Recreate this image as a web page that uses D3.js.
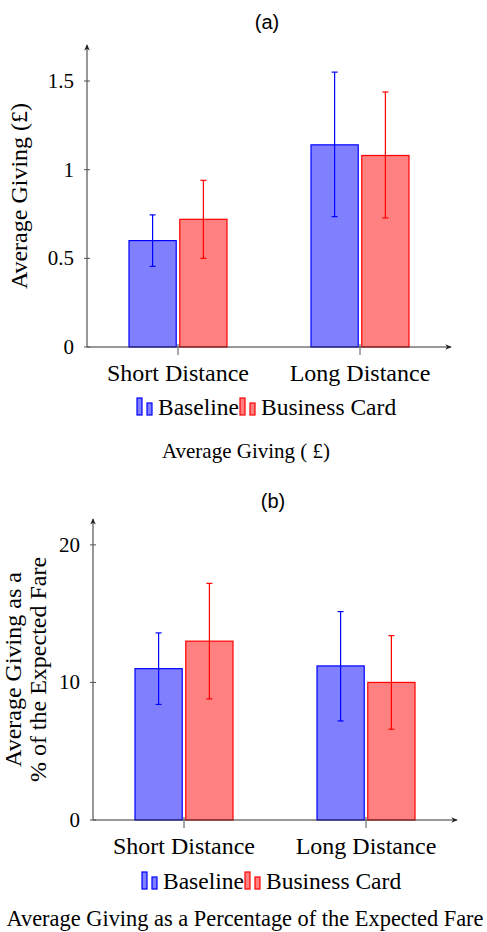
<!DOCTYPE html>
<html>
<head>
<meta charset="utf-8">
<script src="https://cdn.jsdelivr.net/npm/d3@7"></script>
<style>
    body { margin: 0; background: #fff; }
    svg text { fill: #000; }
    .serif { font-family: "Liberation Serif", "Times New Roman", serif; }
    .sans { font-family: "Liberation Sans", Arial, sans-serif; }
</style>
</head>
<body>
<svg id="chart" width="487" height="932"></svg>
<script>
"use strict";

const categories = ['Short Distance', 'Long Distance'];
const seriesNames = ['Baseline', 'Business Card'];
const seriesColors = [
    { fill: '#8080ff', stroke: '#0000ff' },
    { fill: '#ff8080', stroke: '#ff0000' }
];

// panel (a): average giving in pounds
const givingBaseline = [0.60, 1.14];
const givingCard = [0.72, 1.08];
const givingBaselineLow = [0.455, 0.735];
const givingBaselineHigh = [0.745, 1.55];
const givingCardLow = [0.50, 0.728];
const givingCardHigh = [0.94, 1.438];
const givingTicks = [0, 0.5, 1, 1.5];

// panel (b): giving as % of expected fare
const percentBaseline = [11.0, 11.2];
const percentCard = [13.0, 10.0];
const percentBaselineLow = [8.4, 7.2];
const percentBaselineHigh = [13.6, 15.15];
const percentCardLow = [8.8, 6.6];
const percentCardHigh = [17.2, 13.4];
const percentTicks = [0, 10, 20];

const SERIF = '"Liberation Serif", "Times New Roman", serif';

const svg = d3.select('#chart');

const defs = svg.append('defs');
defs.append('marker')
    .attr('id', 'arrow')
    .attr('viewBox', '0 0 10 10')
    .attr('refX', 8).attr('refY', 5)
    .attr('markerWidth', 7).attr('markerHeight', 7)
    .attr('orient', 'auto')
    .append('path')
    .attr('d', 'M0,1 L9,5 L0,9 L2.5,5 Z')
    .attr('fill', '#222');

drawPanel({
    title: '(a)', titleY: 29,
    left: 87, right: 451, bottom: 347, top: 45,
    yMax: 1.703, ticks: givingTicks, tickFormat: d => String(d),
    values: [givingBaseline, givingCard],
    lows: [givingBaselineLow, givingCardLow],
    highs: [givingBaselineHigh, givingCardHigh],
    yLabel: ['Average Giving (£)'], yLabelX: [27],
    legendX: 137, legendY: 415,
    caption: 'Average Giving ( £)', captionX: 246, captionY: 458, captionSize: 21
});

drawPanel({
    title: '(b)', titleY: 508,
    left: 93, right: 457, bottom: 820, top: 519,
    yMax: 21.88, ticks: percentTicks, tickFormat: d => String(d),
    values: [percentBaseline, percentCard],
    lows: [percentBaselineLow, percentCardLow],
    highs: [percentBaselineHigh, percentCardHigh],
    yLabel: ['Average Giving as a', '% of the Expected Fare'], yLabelX: [21, 46],
    legendX: 142, legendY: 889,
    caption: 'Average Giving as a Percentage of the Expected Fare', captionX: 245, captionY: 926, captionSize: 22.4
});


// ------------------------- Panel -------------------------

function drawPanel(cfg) {
    const g = svg.append('g');

    const x = d3.scaleBand()
        .domain(categories)
        .range([cfg.left, cfg.right]);

    const inner = d3.scaleBand()
        .domain(d3.range(seriesNames.length))
        .range([-49, 49])
        .paddingInner(0.07);

    const y = d3.scaleLinear()
        .domain([0, cfg.yMax])
        .range([cfg.bottom, cfg.top]);

    g.append('text')
        .classed('sans', true)
        .attr('x', (cfg.left + cfg.right) / 2 - 2)
        .attr('y', cfg.titleY)
        .attr('text-anchor', 'middle')
        .attr('font-size', 20)
        .text(cfg.title);

    // bars
    const rows = [];
    cfg.values.forEach((vals, s) => vals.forEach((v, i) => rows.push({
        s, cat: categories[i], v, lo: cfg.lows[s][i], hi: cfg.highs[s][i]
    })));

    g.selectAll('.bar')
        .data(rows)
        .enter()
        .append('rect')
        .classed('bar', true)
        .attr('x', d => x(d.cat) + x.bandwidth() / 2 + inner(d.s))
        .attr('y', d => y(d.v))
        .attr('width', inner.bandwidth())
        .attr('height', d => y(0) - y(d.v))
        .attr('fill', d => seriesColors[d.s].fill)
        .attr('stroke', d => seriesColors[d.s].stroke)
        .attr('stroke-width', 1.2);

    // error bars
    const err = g.selectAll('.err')
        .data(rows)
        .enter()
        .append('g')
        .classed('err', true)
        .attr('stroke', d => seriesColors[d.s].stroke)
        .attr('stroke-width', 1.2)
        .attr('transform', d => `translate(${x(d.cat) + x.bandwidth() / 2 + inner(d.s) + inner.bandwidth() / 2},0)`);

    err.append('line')
        .attr('y1', d => y(d.lo)).attr('y2', d => y(d.hi));
    err.append('line')
        .attr('x1', -3).attr('x2', 3)
        .attr('y1', d => y(d.hi)).attr('y2', d => y(d.hi));
    err.append('line')
        .attr('x1', -3).attr('x2', 3)
        .attr('y1', d => y(d.lo)).attr('y2', d => y(d.lo));

    // axes
    g.append('line')
        .attr('x1', cfg.left).attr('x2', cfg.right)
        .attr('y1', cfg.bottom).attr('y2', cfg.bottom)
        .attr('stroke', '#333').attr('stroke-width', 1)
        .attr('marker-end', 'url(#arrow)');
    g.append('line')
        .attr('x1', cfg.left).attr('x2', cfg.left)
        .attr('y1', cfg.bottom).attr('y2', cfg.top)
        .attr('stroke', '#333').attr('stroke-width', 1)
        .attr('marker-end', 'url(#arrow)');

    const yTicks = g.selectAll('.ytick')
        .data(cfg.ticks)
        .enter()
        .append('g')
        .classed('ytick', true)
        .attr('transform', d => `translate(${cfg.left},${y(d)})`);
    yTicks.append('line')
        .attr('x1', -3).attr('x2', 3)
        .attr('stroke', '#555');
    yTicks.append('text')
        .attr('font-family', SERIF)
        .attr('x', -13)
        .attr('dy', '0.33em')
        .attr('text-anchor', 'end')
        .attr('font-size', 21)
        .text(cfg.tickFormat);

    const xTicks = g.selectAll('.xtick')
        .data(categories)
        .enter()
        .append('g')
        .classed('xtick', true)
        .attr('transform', d => `translate(${x(d) + x.bandwidth() / 2},${cfg.bottom})`);
    xTicks.append('line')
        .attr('y1', -3).attr('y2', 8)
        .attr('stroke', '#555');
    xTicks.append('text')
        .attr('font-family', SERIF)
        .attr('y', 34)
        .attr('text-anchor', 'middle')
        .attr('font-size', 24)
        .text(d => d);

    // y label
    const midY = (cfg.bottom + cfg.top) / 2;
    cfg.yLabel.forEach((line, i) => {
        g.append('text')
            .attr('font-family', SERIF)
            .attr('transform', `translate(${cfg.yLabelX[i]},${midY}) rotate(-90)`)
            .attr('text-anchor', 'middle')
            .attr('font-size', 24)
            .text(line);
    });

    drawLegend(g, cfg.legendX, cfg.legendY);

    g.append('text')
        .attr('font-family', SERIF)
        .attr('x', cfg.captionX)
        .attr('y', cfg.captionY)
        .attr('text-anchor', 'middle')
        .attr('font-size', cfg.captionSize)
        .text(cfg.caption);
}

function drawLegend(g, x0, baseY) {
    const widths = [78, 136];
    let cx = x0;
    seriesNames.forEach((name, s) => {
        const c = seriesColors[s];
        g.append('rect')
            .attr('x', cx).attr('y', baseY - 17)
            .attr('width', 5).attr('height', 17)
            .attr('fill', c.fill).attr('stroke', c.stroke).attr('stroke-width', 1.2);
        g.append('rect')
            .attr('x', cx + 10).attr('y', baseY - 12)
            .attr('width', 5).attr('height', 12)
            .attr('fill', c.fill).attr('stroke', c.stroke).attr('stroke-width', 1.2);
        g.append('text')
            .attr('font-family', SERIF)
            .attr('x', cx + 21)
            .attr('y', baseY)
            .attr('font-size', 23.5)
            .text(name);
        cx += 21 + widths[s] + 4;
    });
}
</script>
</body>
</html>
